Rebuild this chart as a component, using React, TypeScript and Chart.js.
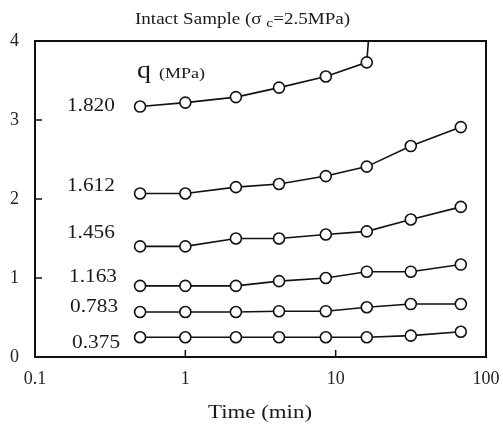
import React, { useEffect, useRef } from "react";
import { Chart, registerables } from "chart.js";

Chart.register(...registerables);

const times = [0.5, 1, 2.17, 4.2, 8.6, 16.1, 31.6, 68];
const q1820 = [3.17, 3.22, 3.29, 3.41, 3.55, 3.73];
const q1820Tail = { time: 17.3, q: 4.5 };
const q1612 = [2.07, 2.07, 2.15, 2.19, 2.29, 2.41, 2.67, 2.91];
const q1456 = [1.4, 1.4, 1.5, 1.5, 1.55, 1.59, 1.74, 1.9];
const q1163 = [0.9, 0.9, 0.9, 0.96, 1.0, 1.08, 1.08, 1.17];
const q0783 = [0.57, 0.57, 0.57, 0.58, 0.58, 0.63, 0.67, 0.67];
const q0375 = [0.25, 0.25, 0.25, 0.25, 0.25, 0.25, 0.27, 0.32];

const seriesLabels = ["1.820", "1.612", "1.456", "1.163", "0.783", "0.375"];
const labelTimes = [0.34, 0.34, 0.34, 0.351, 0.357, 0.368];
const labelQ = [3.18, 2.16, 1.566, 1.01, 0.633, 0.173];
const qLabelPos = { time: 0.477, q: 3.53 };

const xTicks = [0.1, 1, 10, 100];
const yTicks = [0, 1, 2, 3, 4];

const SERIF = "'Liberation Serif', 'DejaVu Serif', serif";

// draw text horizontally stretched to a target width
function fitText(ctx: any, text: string, x: number, y: number, size: number, width: number, align: string) {
  ctx.font = `${size}px ${SERIF}`;
  const w = ctx.measureText(text).width;
  const sx = width / w;
  let left = x;
  if (align === "center") left = x - width / 2;
  else if (align === "right") left = x - width;
  ctx.save();
  ctx.translate(left, y);
  ctx.scale(sx, 1);
  ctx.textAlign = "left";
  ctx.fillText(text, 0, 0);
  ctx.restore();
  return sx;
}

const overlay = {
  id: "overlay",
  afterDraw(chart: any) {
    const ctx = chart.ctx;
    const a = chart.chartArea;
    const xs = chart.scales.x;
    const ys = chart.scales.y;
    ctx.save();
    // frame
    ctx.strokeStyle = "#111";
    ctx.lineWidth = 2;
    ctx.strokeRect(a.left, a.top, a.right - a.left, a.bottom - a.top);
    // inside ticks
    ctx.lineWidth = 1.5;
    ctx.beginPath();
    for (const v of xTicks) {
      const px = xs.getPixelForValue(v);
      if (px <= a.left + 1 || px >= a.right - 1) continue;
      ctx.moveTo(px, a.bottom);
      ctx.lineTo(px, a.bottom - 7);
    }
    for (const v of yTicks) {
      const py = ys.getPixelForValue(v);
      if (py <= a.top + 1 || py >= a.bottom - 1) continue;
      ctx.moveTo(a.left, py);
      ctx.lineTo(a.left + 7, py);
    }
    ctx.stroke();

    ctx.fillStyle = "#1a1a1a";
    ctx.textBaseline = "alphabetic";
    // title with subscript, stretched to width
    const parts: [string, number, number][] = [
      ["Intact Sample (\u03c3 ", 16, 0],
      ["c", 13, 3],
      ["=2.5MPa)", 16, 0],
    ];
    let total = 0;
    for (const [t, s] of parts) {
      ctx.font = `${s}px ${SERIF}`;
      total += ctx.measureText(t).width;
    }
    const titleW = 215;
    const sx = titleW / total;
    ctx.save();
    ctx.translate(242.5 - titleW / 2, 24);
    ctx.scale(sx, 1);
    let x = 0;
    for (const [t, s, dy] of parts) {
      ctx.font = `${s}px ${SERIF}`;
      ctx.textAlign = "left";
      ctx.fillText(t, x, dy);
      x += ctx.measureText(t).width;
    }
    ctx.restore();

    // x axis title
    fitText(ctx, "Time (min)", (a.left + a.right) / 2 - 0.5, 418, 19, 104, "center");

    // series labels
    ctx.textBaseline = "middle";
    seriesLabels.forEach((lbl, i) => {
      fitText(ctx, lbl, xs.getPixelForValue(labelTimes[i]), ys.getPixelForValue(labelQ[i]), 19.5, 48, "right");
    });
    // q (MPa)
    ctx.textBaseline = "alphabetic";
    const qx = xs.getPixelForValue(qLabelPos.time);
    const qy = ys.getPixelForValue(qLabelPos.q);
    fitText(ctx, "q", qx, qy, 25, 14, "left");
    fitText(ctx, "(MPa)", qx + 22, qy, 15, 46, "left");
    ctx.restore();
  },
};

function mk(vals: number[]) {
  return vals.map((v, i) => ({ x: times[i], y: v }));
}

export default function App() {
  const ref = useRef<HTMLCanvasElement | null>(null);
  useEffect(() => {
    if (!ref.current) return;
    const common = {
      borderColor: "#111",
      borderWidth: 1.6,
      pointBackgroundColor: "#fff",
      pointBorderColor: "#111",
      pointBorderWidth: 1.6,
      pointRadius: 5.5,
      tension: 0,
      fill: false,
    };
    const s1820 = [...mk(q1820), { x: q1820Tail.time, y: q1820Tail.q }];
    const chart = new Chart(ref.current, {
      type: "line",
      data: {
        datasets: [
          { ...common, data: s1820, pointRadius: s1820.map((_, i) => (i < q1820.length ? 5.5 : 0)) },
          { ...common, data: mk(q1612) },
          { ...common, data: mk(q1456) },
          { ...common, data: mk(q1163) },
          { ...common, data: mk(q0783) },
          { ...common, data: mk(q0375) },
        ] as any,
      },
      options: {
        animation: false,
        responsive: true,
        maintainAspectRatio: false,
        layout: { padding: { top: 41, right: 17, left: 0, bottom: 0 } },
        plugins: { legend: { display: false }, tooltip: { enabled: false }, title: { display: false } },
        scales: {
          x: {
            type: "logarithmic",
            min: 0.1,
            max: 100,
            afterBuildTicks: (s: any) => {
              s.ticks = xTicks.map((v) => ({ value: v }));
            },
            afterFit: (s: any) => {
              s.height = 71;
              s.paddingLeft = 0;
              s.paddingRight = 0;
            },
            ticks: {
              autoSkip: false,
              maxRotation: 0,
              padding: 11,
              color: "#222",
              font: { family: SERIF, size: 18 },
              callback: (v: any) => String(v),
            },
            grid: { display: false, drawTicks: false },
            border: { display: false },
            title: { display: false },
          },
          y: {
            min: 0,
            max: 4,
            afterBuildTicks: (s: any) => {
              s.ticks = yTicks.map((v) => ({ value: v }));
            },
            afterFit: (s: any) => {
              s.width = 35;
              s.paddingTop = 0;
              s.paddingBottom = 0;
            },
            ticks: {
              padding: 16,
              color: "#222",
              font: { family: SERIF, size: 18 },
            },
            grid: { display: false, drawTicks: false },
            border: { display: false },
          },
        },
      },
      plugins: [overlay],
    } as any);
    return () => chart.destroy();
  }, []);
  return (
    <div style={{ position: "fixed", left: 0, top: 0, width: 503, height: 428, background: "#fff" }}>
      <canvas ref={ref} />
    </div>
  );
}
